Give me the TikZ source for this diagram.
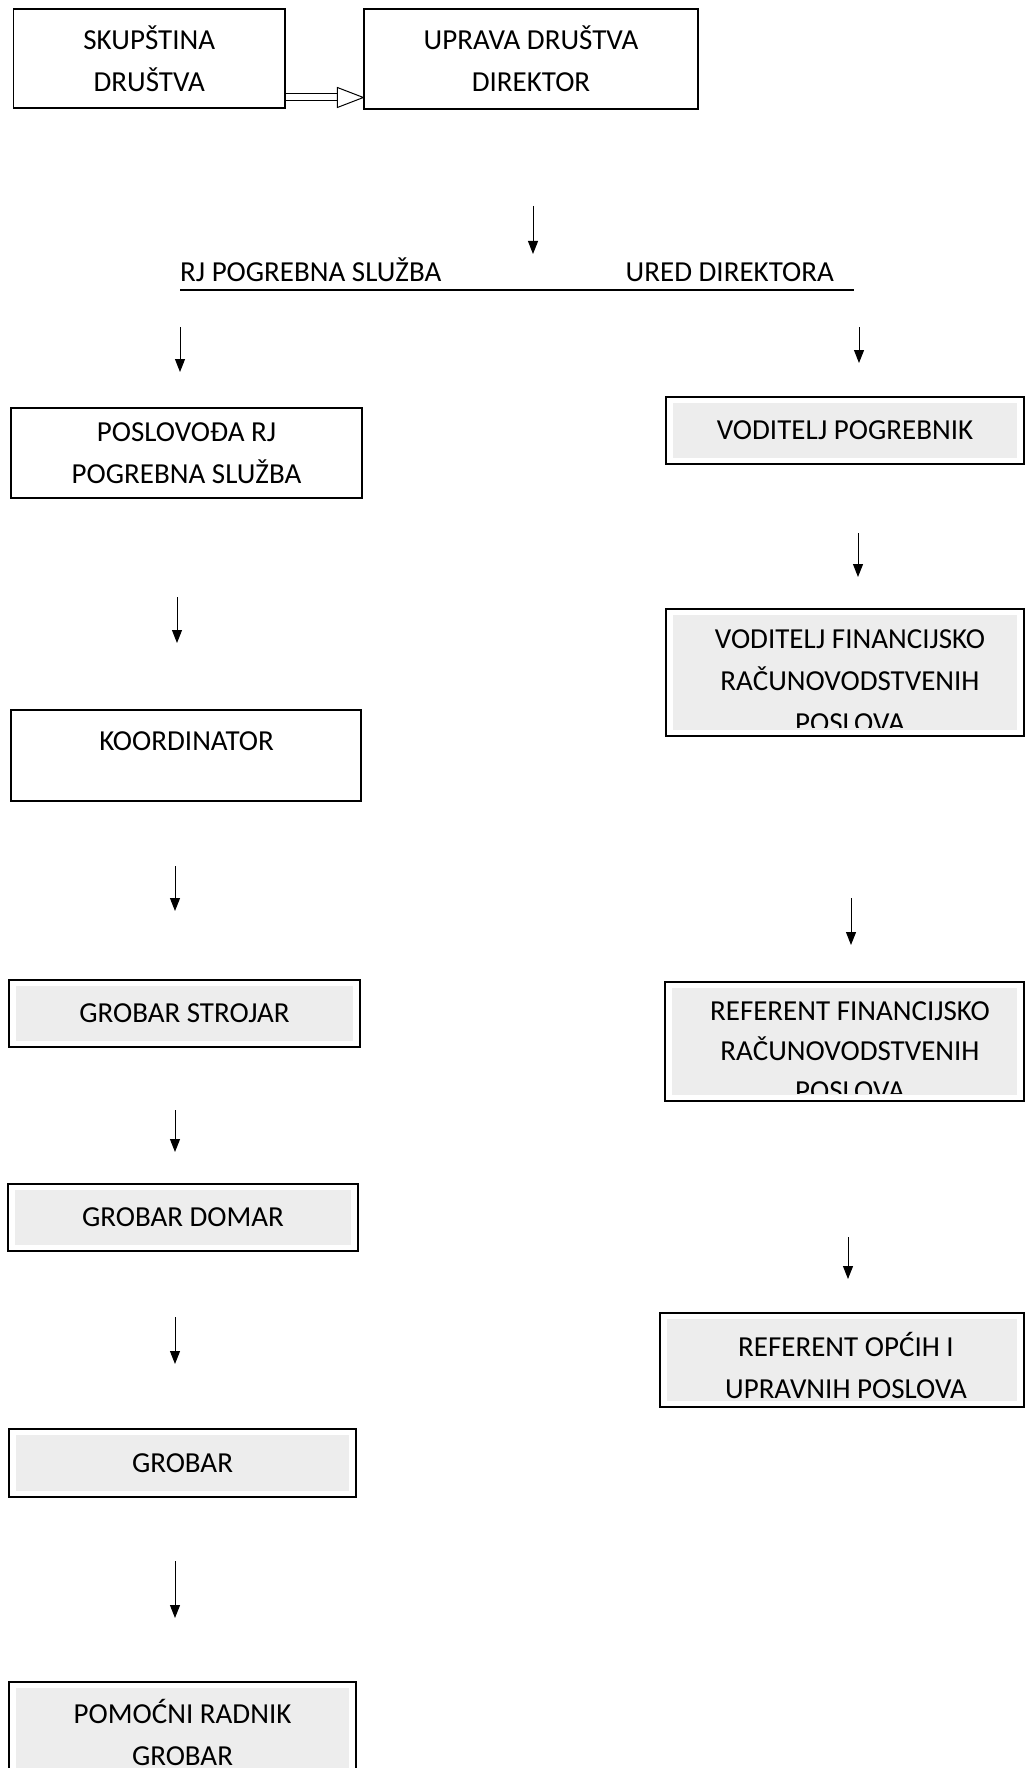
\documentclass[tikz,border=0pt]{standalone}
\usepackage{fontspec}
\setmainfont{Carlito}
\usetikzlibrary{arrows.meta,calc}
\begin{document}
\begin{tikzpicture}[x=1pt,y=-1pt,
  box/.style={draw, line width=1.3pt, inner sep=0pt, align=center, font=\fontsize{29}{42}\selectfont},
  shd/.style={path picture={\fill[black!7] ([shift={(7pt,-6pt)}]path picture bounding box.north west) rectangle ([shift={(-7pt,6pt)}]path picture bounding box.south east);}},
  arr/.style={line width=1pt, -{Triangle[width=10pt,length=13pt]}},
  lbl/.style={font=\fontsize{29}{42}\selectfont, inner sep=0pt, align=center}]
\useasboundingbox (0,0) rectangle (1028,1768);

% top boxes
\node[box, minimum width=271.5pt, minimum height=99pt] (skup) at (149.25,58.5) {SKUPŠTINA\\DRUŠTVA};
\node[box, minimum width=334pt, minimum height=100pt] (upr) at (531,59) {UPRAVA DRUŠTVA\\DIREKTOR};

% double arrow
\coordinate (dA) at (skup.east |- 0,97.5);
\coordinate (dB) at (upr.west |- 0,97.5);
\draw[line width=1pt] ($(dA)+(0,-3.5)$) -- ($(dB)+(-26,-3.5)$)
  ($(dA)+(0,3.5)$) -- ($(dB)+(-26,3.5)$);
\draw[line width=1pt, line join=miter] ($(dB)+(-26,-10)$) -- (dB) -- ($(dB)+(-26,10)$) -- cycle;

% top arrow
\coordinate (t1) at (533,206); \coordinate (t2) at (533,254);
\draw[arr] (t1) -- (t2);

% split labels
\node[lbl, anchor=base west] (rj) at (180,282) {RJ POGREBNA SLUŽBA};
\node[lbl, anchor=base east] (ured) at (834,282) {URED DIREKTORA};
\coordinate (u1) at (180,290); \coordinate (u2) at (854,290);
\draw[line width=1.2pt] (u1) -- (u2);

% left column
\coordinate (la1) at (180,327); \coordinate (lb1) at (180,372);
\draw[arr] (la1) -- (lb1);
\node[box, minimum width=351pt, minimum height=90pt] (poslo) at (186.5,453) {POSLOVOĐA RJ\\POGREBNA SLUŽBA};
\coordinate (la2) at (177,597); \coordinate (lb2) at (177,643);
\draw[arr] (la2) -- (lb2);
\node[box, minimum width=350pt, minimum height=91pt] (koord) at (186,755.5) {};
\node[lbl] (koordt) at (186.5,741) {KOORDINATOR};
\coordinate (la3) at (175,866); \coordinate (lb3) at (175,911);
\draw[arr] (la3) -- (lb3);
\node[box, shd, minimum width=351pt, minimum height=67pt] (stroj) at (184.5,1013.5) {GROBAR STROJAR};
\coordinate (la4) at (175,1110); \coordinate (lb4) at (175,1152);
\draw[arr] (la4) -- (lb4);
\node[box, shd, minimum width=350pt, minimum height=67pt] (domar) at (183,1217.5) {GROBAR DOMAR};
\coordinate (la5) at (175,1317); \coordinate (lb5) at (175,1364);
\draw[arr] (la5) -- (lb5);
\node[box, shd, minimum width=347pt, minimum height=68pt] (grob) at (182.5,1463) {GROBAR};
\coordinate (la6) at (175,1561); \coordinate (lb6) at (175,1618);
\draw[arr] (la6) -- (lb6);
\node[box, shd, minimum width=347pt, minimum height=92pt] (pom) at (182.5,1728) {};
\node[lbl] (pomt) at (182.5,1732) {POMOĆNI RADNIK\\GROBAR};

% right column
\coordinate (ra1) at (859,327); \coordinate (rb1) at (859,363);
\draw[arr] (ra1) -- (rb1);
\node[box, shd, minimum width=358pt, minimum height=67pt] (vodpog) at (845,430.5) {VODITELJ POGREBNIK};
\coordinate (ra2) at (858,533); \coordinate (rb2) at (858,577);
\draw[arr] (ra2) -- (rb2);
\node[box, shd, minimum width=358pt, minimum height=127pt] (vodfin) at (845,672.5) {};
\begin{scope}
  \clip (vodfin.north west) rectangle ($(vodfin.south east)+(0,-9)$);
  \node[lbl] (vodfint) at (850,681) {VODITELJ FINANCIJSKO\\RAČUNOVODSTVENIH\\POSLOVA};
\end{scope}
\coordinate (ra3) at (851,898); \coordinate (rb3) at (851,945);
\draw[arr] (ra3) -- (rb3);
\node[box, shd, minimum width=359pt, minimum height=119pt] (reffin) at (844.5,1041.5) {};
\begin{scope}
  \clip (reffin.north west) rectangle ($(reffin.south east)+(0,-8)$);
  \node[lbl, font=\fontsize{29}{40}\selectfont] (reffint) at (850,1051) {REFERENT FINANCIJSKO\\RAČUNOVODSTVENIH\\POSLOVA};
\end{scope}
\coordinate (ra4) at (848,1237); \coordinate (rb4) at (848,1279);
\draw[arr] (ra4) -- (rb4);
\node[box, shd, minimum width=364pt, minimum height=94pt] (refopc) at (842,1360) {};
\node[lbl] (refopct) at (846,1365) {REFERENT OPĆIH I\\UPRAVNIH POSLOVA};
\end{tikzpicture}
\end{document}
